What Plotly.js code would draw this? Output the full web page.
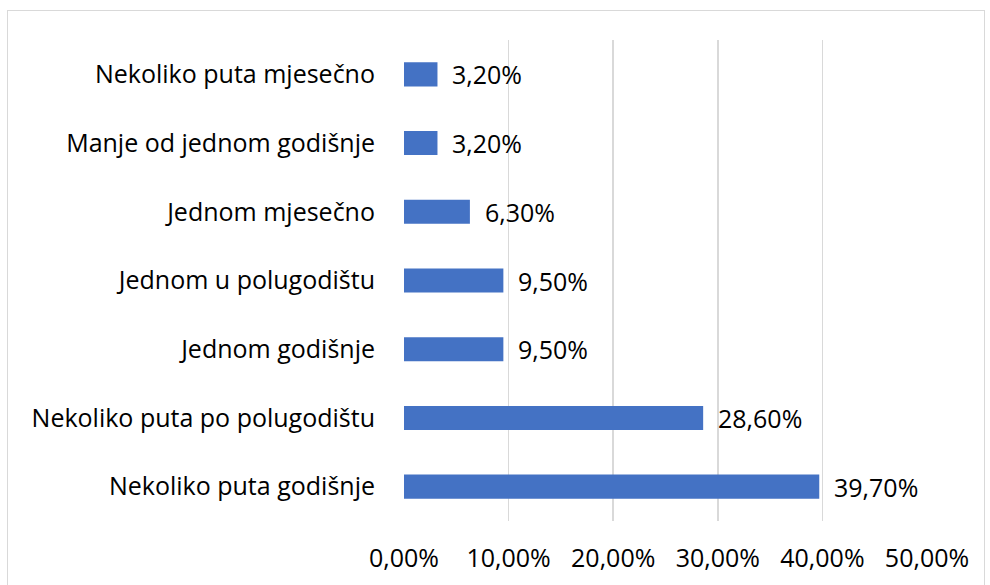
<!DOCTYPE html>
<html>
<head>
<meta charset="utf-8">
<script src="https://cdn.plot.ly/plotly-3.0.1.min.js"></script>
<style>
  html, body { margin: 0; padding: 0; background: #fff; }
  #wrap { position: relative; width: 990px; height: 585px; }
  #chart { width: 990px; height: 585px; }
  #frame { position: absolute; left: 7px; top: 10px; width: 978px; height: 580px;
           border: 1px solid #d9d9d9; pointer-events: none; box-sizing: border-box; }
</style>
</head>
<body>
<div id="wrap">
  <div id="chart"></div>
  <div id="frame"></div>
</div>
<script>
const categories = [
  "Nekoliko puta mjesečno",
  "Manje od jednom godišnje",
  "Jednom mjesečno",
  "Jednom u polugodištu",
  "Jednom godišnje",
  "Nekoliko puta po polugodištu",
  "Nekoliko puta godišnje"
];
const values = [0.032, 0.032, 0.063, 0.095, 0.095, 0.286, 0.397];
const tickValues = [0, 0.1, 0.2, 0.3, 0.4, 0.5];

const FONT = "'Open Sans', 'Noto Sans', sans-serif";
const FS = 25;

const trace = {
  type: "bar",
  orientation: "h",
  x: values,
  y: categories,
  marker: { color: "#4472C4" },
  width: 0.35,
  hoverinfo: "none"
};

const annotations = values.map((v, i) => ({
  x: v,
  y: categories[i],
  xref: "x",
  yref: "y",
  text: (v * 100).toFixed(2).replace(".", ",") + "%",
  showarrow: false,
  xanchor: "left",
  yanchor: "middle",
  xshift: 13,
  font: { family: FONT, size: FS, color: "#000" }
}));

const layout = {
  width: 990,
  height: 585,
  margin: { l: 404, r: 63, t: 40, b: 64 },
  paper_bgcolor: "#fff",
  plot_bgcolor: "#fff",
  separators: ",.",
  showlegend: false,
  font: { family: FONT, size: FS, color: "#000" },
  xaxis: {
    range: [0, 0.5],
    tickvals: tickValues,
    tickformat: ".2%",
    showgrid: true,
    gridcolor: "#d9d9d9",
    gridwidth: 1.5,
    zeroline: false,
    showline: false,
    ticks: "outside",
    ticklen: 15,
    tickcolor: "rgba(0,0,0,0)",
    tickfont: { family: FONT, size: FS, color: "#000" },
    fixedrange: true
  },
  yaxis: {
    type: "category",
    autorange: "reversed",
    showgrid: false,
    zeroline: false,
    showline: false,
    ticks: "outside",
    ticklen: 23,
    tickcolor: "rgba(0,0,0,0)",
    tickfont: { family: FONT, size: FS, color: "#000" },
    fixedrange: true
  },
  annotations: annotations
};

Plotly.newPlot("chart", [trace], layout, { displayModeBar: false, staticPlot: true });
</script>
</body>
</html>
